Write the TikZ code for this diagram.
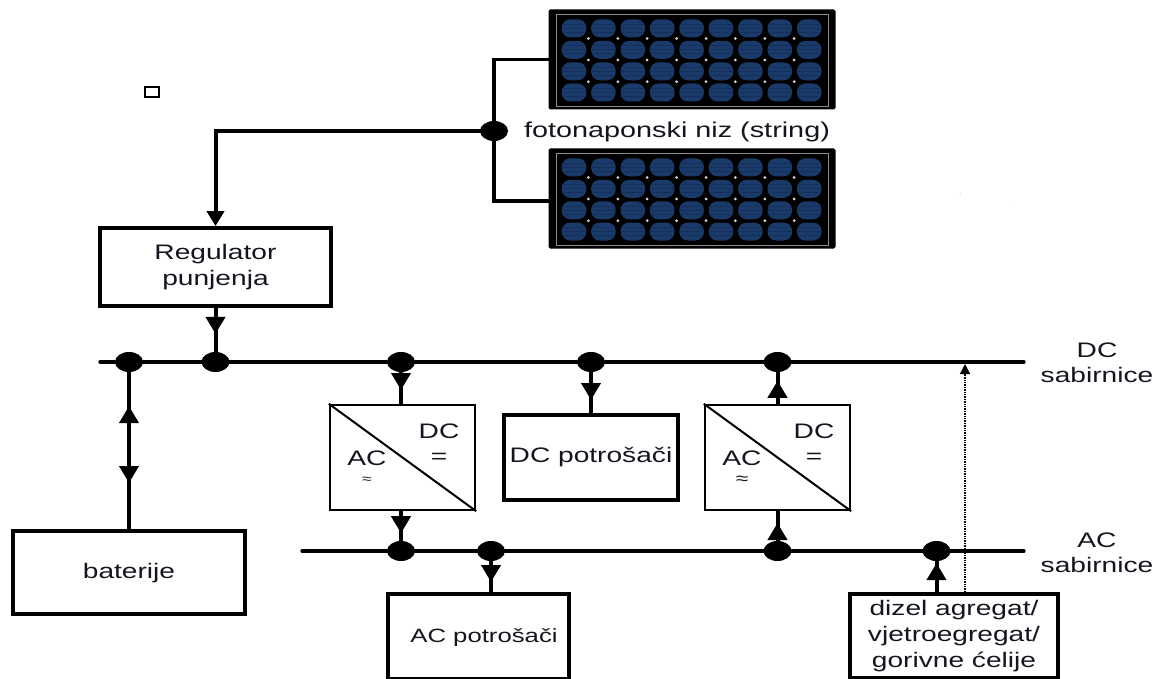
\documentclass[tikz,border=0pt]{standalone}
\usepackage{fontspec}
\setmainfont[FakeStretch=1.34]{Liberation Sans}
\usetikzlibrary{arrows.meta,decorations.markings,shapes.geometric}
\definecolor{cellblue}{HTML}{1A3A6A}
\definecolor{celldark}{HTML}{14305A}
\definecolor{txt}{HTML}{15151F}
\definecolor{speck}{HTML}{F3E3B0}
\tikzset{
  bus/.style={line width=3.2pt,line cap=round},
  wire/.style={line width=4pt},
  thinwire/.style={line width=3.2pt},
  dotnode/.style={shape=ellipse,fill=black,draw=none,minimum width=28pt,minimum height=20pt,inner sep=0pt},
  heavybox/.style={draw=black,line width=3.8pt,fill=white,inner sep=0pt,align=center,text=txt,font=\lab},
  convbox/.style={draw=black,line width=2.4pt,fill=white,inner sep=0pt,minimum width=145pt,minimum height=105pt},
  lab/.style={text=txt,font=\lab,inner sep=0pt,align=center},
  tipat/.style={postaction={decorate,decoration={markings,mark=at position #1 with {\arrow{Triangle[width=19pt,length=17pt]}}}}},
  panelbox/.style={draw=black,fill=black,line width=2pt,rounded corners=1pt,minimum width=285pt,minimum height=98pt,inner sep=0pt},
}
\newcommand{\lab}{\fontsize{21}{26}\selectfont}
\newcommand{\cells}[1]{%
  \begin{scope}[yshift=-#1pt]
    \draw[black!45,line width=.9pt] (556,14) rectangle (828,106);
    \foreach \cx in {574,603.4,632.8,662.2,691.6,721,750.4,779.8,809.2}{
      \foreach \cy in {28.3,49.8,71.3,92.5}{
        \fill[cellblue,rounded corners=8.5pt] (\cx-12.3,\cy-9) rectangle (\cx+12.3,\cy+9);
        \draw[celldark,line width=.7pt] (\cx-10,\cy-4) -- (\cx+10,\cy-4) (\cx-11.5,\cy) -- (\cx+11.5,\cy) (\cx-10,\cy+4) -- (\cx+10,\cy+4);
      }
    }
    \foreach \cx in {588.4,617.8,647.2,676.6,706,735.4,764.8,794.2}{
      \foreach \cy in {38.5,60,81.7}{
        \fill[white!85!black] (\cx,\cy) circle (1.5);
      }
    }
  \end{scope}}
\begin{document}
\begin{tikzpicture}[x=1pt,y=-1pt]
\useasboundingbox (0,0) rectangle (1164,679);
% panels
\node[panelbox] (p1) at (692,59.5) {};
\node[panelbox] (p2) at (692,198.5) {};
\cells{0}
\cells{139}
\node[lab,font=\fontsize{21.5}{26}\selectfont] (str) at (677,132) {fotonaponski niz (string)};
% small square
\node[draw=black,line width=1.4pt,minimum width=14pt,minimum height=10pt,inner sep=0pt] (sq) at (152,92) {};
% specks
\fill[speck] (960,194) circle (1);
\fill[speck] (1010,205) circle (.7);
% boxes
\node[heavybox,minimum width=231pt,minimum height=78pt] (reg) at (215.5,267) {};
\node[lab] (regtxt) at (215.5,267) {Regulator\\punjenja};
\node[heavybox,minimum width=232pt,minimum height=83pt] (bat) at (129,572.5) {};
\node[lab] (battxt) at (129,573) {baterije};
\node[convbox] (c1) at (402.5,457.5) {};
\node[convbox] (c2) at (777.5,457.5) {};
\node[heavybox,minimum width=174pt,minimum height=85pt] (dcl) at (591,457.5) {DC potrošači};
\node[heavybox,minimum width=181pt,minimum height=85pt] (acl) at (478.5,636.5) {};
\node[lab,font=\fontsize{19.2}{24}\selectfont] (acltxt) at (484,637) {AC potrošači};
\node[heavybox,minimum width=208pt,minimum height=84pt] (diz) at (954,636) {\fontsize{21}{24.5}\selectfont dizel agregat/\\vjetroegregat/\\gorivne ćelije};
% converter contents
\draw[line width=2pt] (c1.north west) -- (c1.south east);
\draw[line width=2pt] (c2.north west) -- (c2.south east);
\node[lab] (c1dc) at (439,431) {DC};
\node[lab] (c1eq) at (439,458) {=};
\node[lab] (c1ac) at (367,458) {AC};
\node[lab,font=\fontsize{13}{15}\selectfont] (c1ap) at (367,480) {≈};
\node[lab] (c2dc) at (814,431) {DC};
\node[lab] (c2eq) at (814,458) {=};
\node[lab] (c2ac) at (742,458) {AC};
\node[lab,font=\fontsize{17}{19}\selectfont] (c2ap) at (742,480) {≈};
% bus ends
\coordinate (dcl0) at (100,362);
\coordinate (dcr0) at (1024,362);
\coordinate (acl0) at (302,551);
\coordinate (acr0) at (1024,551);
\draw[bus] (dcl0) -- (dcr0);
\draw[bus] (acl0) -- (acr0);
\node[lab,font=\fontsize{21}{24.5}\selectfont] (dclab) at (1097,363) {DC\\sabirnice};
\node[lab,font=\fontsize{21}{24.5}\selectfont] (aclab) at (1097,553) {AC\\sabirnice};
% dots
\node[dotnode] (top) at (494,131) {};
\node[dotnode] (d1) at (129,362) {};
\node[dotnode] (d2) at (215.5,362) {};
\node[dotnode] (d3) at (401,362) {};
\node[dotnode] (d4) at (591,362) {};
\node[dotnode] (d5) at (777.5,362) {};
\node[dotnode] (a1) at (401,551) {};
\node[dotnode] (a2) at (491,551) {};
\node[dotnode] (a3) at (777.5,551) {};
\node[dotnode] (a4) at (936.5,551) {};
% array wiring
\draw[thinwire] (p1.west) -| (top.center);
\draw[thinwire] ([yshift=-2.5pt]p2.west) -| (top.center);
\draw[wire,-{Triangle[width=17pt,length=15pt]}] (top.center) -| (reg.north);
% connectors
\draw[wire,tipat=26pt] (reg.south) -- (d2.center);
\draw[wire,tipat=123pt] (bat.north) -- (d1.center);
\draw[wire,tipat=121pt] (d1.center) -- (bat.north);
\draw[wire,tipat=28pt] (d3.center) -- (d3.center |- c1.north);
\draw[wire,tipat=38pt] (d4.center) -- (dcl.north);
\draw[wire,tipat=23pt] (c2.north) -- (d5.center);
\draw[wire,tipat=22pt] (a1.center |- c1.south) -- (a1.center);
\draw[wire,tipat=31pt] (a2.center) -- (a2.center |- acl.north);
\draw[wire,tipat=28pt] (a3.center) -- (c2.south);
\draw[wire,tipat=29pt] (a4.center |- diz.north) -- (a4.center);
% dotted feed
\coordinate (dott) at (965,364);
\draw[line width=1.4pt,densely dotted,-{Triangle[width=10pt,length=10pt]}] (dott |- diz.north) -- (dott);
\end{tikzpicture}
\end{document}
